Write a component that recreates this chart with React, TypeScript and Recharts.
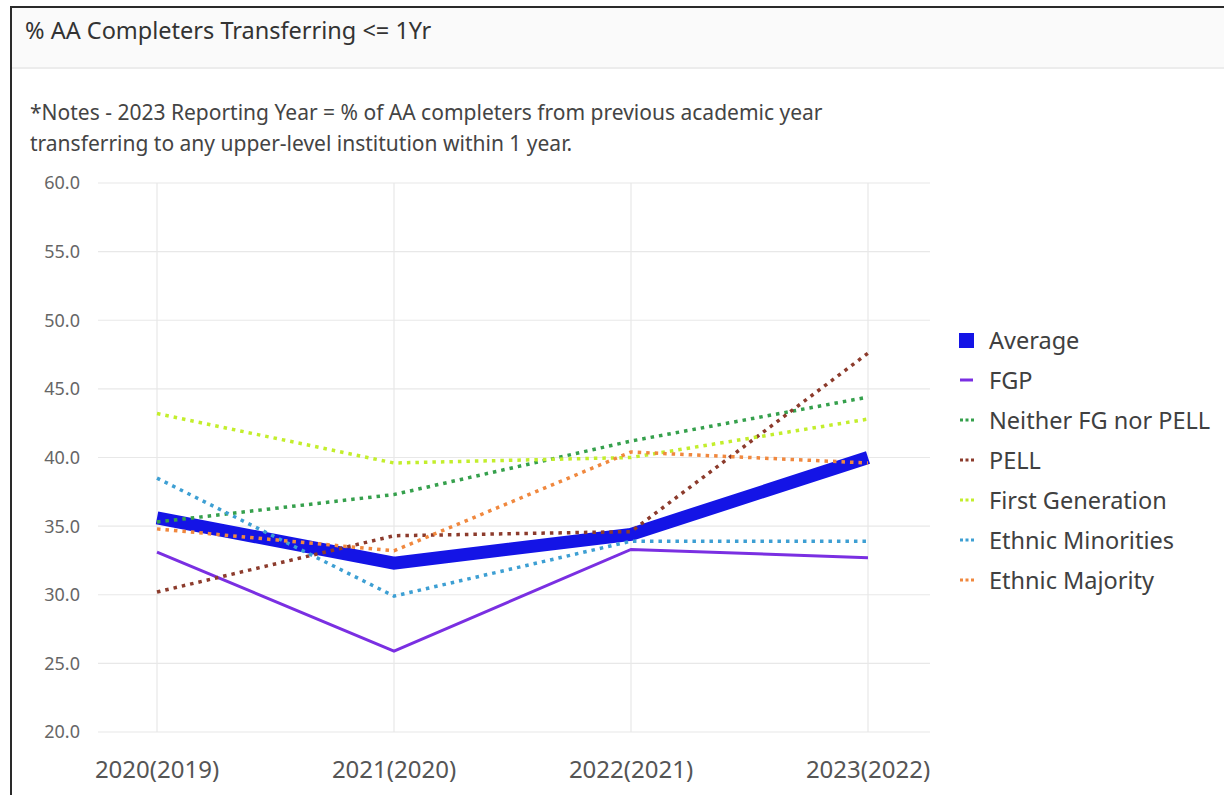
import { LineChart, Line, XAxis, YAxis, CartesianGrid, ReferenceLine } from 'recharts';

const categories = ['2020(2019)', '2021(2020)', '2022(2021)', '2023(2022)'];

const average = [35.6, 32.3, 34.4, 40.0];
const fgp = [33.1, 25.9, 33.3, 32.7];
const neitherFgNorPell = [35.3, 37.3, 41.2, 44.4];
const pell = [30.2, 34.3, 34.6, 47.6];
const firstGeneration = [43.2, 39.6, 40.0, 42.8];
const ethnicMinorities = [38.5, 29.9, 33.9, 33.9];
const ethnicMajority = [34.8, 33.2, 40.4, 39.6];

const yTicks = [20, 25, 30, 35, 40, 45, 50, 55, 60];

const series = [
  { key: 'average', name: 'Average', values: average, color: '#1414e6', kind: 'thick' },
  { key: 'fgp', name: 'FGP', values: fgp, color: '#7a2fe2', kind: 'solid' },
  { key: 'neither', name: 'Neither FG nor PELL', values: neitherFgNorPell, color: '#35a04c', kind: 'dotted' },
  { key: 'pell', name: 'PELL', values: pell, color: '#8c3b2c', kind: 'dotted' },
  { key: 'firstGen', name: 'First Generation', values: firstGeneration, color: '#c3ee2c', kind: 'dotted' },
  { key: 'minorities', name: 'Ethnic Minorities', values: ethnicMinorities, color: '#3d9fd3', kind: 'dotted' },
  { key: 'majority', name: 'Ethnic Majority', values: ethnicMajority, color: '#f0883e', kind: 'dotted' },
];

const data = categories.map((cat, i) => {
  const row: Record<string, string | number> = { cat };
  series.forEach((s) => {
    row[s.key] = s.values[i];
  });
  return row;
});

const font = '"Segoe UI", "Noto Sans", "Open Sans", sans-serif';
const gridColor = '#e8e8e8';

// legend drawn as plain html next to the plot
function LegendList() {
  return (
    <div style={{ fontFamily: font, fontSize: 23.5, color: '#404040' }}>
      {series.map((s) => (
        <div key={s.key} style={{ display: 'flex', alignItems: 'center', height: 40 }}>
          <svg width={32} height={20} style={{ flex: 'none' }}>
            {s.kind === 'thick' && <rect x={2} y={3} width={15} height={15} fill={s.color} />}
            {s.kind === 'solid' && <line x1={3} x2={16} y1={10} y2={10} stroke={s.color} strokeWidth={3} />}
            {s.kind === 'dotted' && (
              <line x1={3} x2={17} y1={10} y2={10} stroke={s.color} strokeWidth={3} strokeDasharray="3 2.5" />
            )}
          </svg>
          <span style={{ whiteSpace: 'nowrap' }}>{s.name}</span>
        </div>
      ))}
    </div>
  );
}

export default function App() {
  return (
    <div style={{ position: 'fixed', inset: 0, overflow: 'hidden', background: '#fff' }}>
      <div
        style={{
          position: 'absolute',
          left: 10,
          top: 6,
          width: 1400,
          height: 1000,
          borderLeft: '2px solid #2a2a2a',
          borderTop: '2px solid #2a2a2a',
          background: '#fff',
        }}
      >
        <div
          style={{
            height: 59,
            background: '#fafafa',
            borderBottom: '2px solid #ececec',
            fontFamily: font,
            fontSize: 23.5,
            color: '#333',
            paddingLeft: 13,
            lineHeight: '44px',
          }}
        >
          % AA Completers Transferring &lt;= 1Yr
        </div>
        <div
          style={{
            position: 'absolute',
            left: 18,
            top: 89,
            fontFamily: font,
            fontSize: 21,
            color: '#444',
            lineHeight: '31px',
          }}
        >
          *Notes - 2023 Reporting Year = % of AA completers from previous academic year
          <br />
          transferring to any upper-level institution within 1 year.
        </div>
      </div>
      <div style={{ position: 'absolute', left: 0, top: 160 }}>
        <LineChart
          width={1224}
          height={635}
          data={data}
          margin={{ top: 23, right: 294, bottom: 13, left: 38 }}
        >
          <CartesianGrid stroke={gridColor} strokeWidth={1.2} vertical={false} />
          <XAxis
            dataKey="cat"
            padding={{ left: 59, right: 62 }}
            axisLine={false}
            tickLine={false}
            tickSize={0}
            tickMargin={29}
            height={50}
            interval={0}
            tick={{ fill: '#555', fontSize: 24, fontFamily: font }}
          />
          <YAxis
            domain={[20, 60]}
            ticks={yTicks}
            width={60}
            axisLine={false}
            tickLine={false}
            tickSize={0}
            tickMargin={18}
            tickFormatter={(v: number) => v.toFixed(1)}
            tick={{ fill: '#666', fontSize: 18, fontFamily: font }}
          />
          {categories.map((c) => (
            <ReferenceLine key={c} x={c} stroke={gridColor} strokeWidth={1.2} />
          ))}
          {series.map((s) => (
            <Line
              key={s.key}
              dataKey={s.key}
              name={s.name}
              type="linear"
              stroke={s.color}
              strokeWidth={s.kind === 'thick' ? 13 : s.kind === 'solid' ? 3 : 3.5}
              strokeDasharray={s.kind === 'dotted' ? '3.5 5' : undefined}
              strokeLinecap="butt"
              strokeLinejoin="miter"
              dot={false}
              activeDot={false}
              isAnimationActive={false}
            />
          ))}
        </LineChart>
      </div>
      <div style={{ position: 'absolute', left: 957, top: 320 }}>
        <LegendList />
      </div>
    </div>
  );
}
